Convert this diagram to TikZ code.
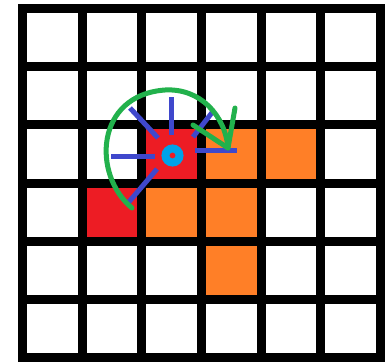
\documentclass[tikz,border=0pt]{standalone}
\usepackage{tikz}
\usetikzlibrary{calc}

\definecolor{paintred}{HTML}{ED1C24}
\definecolor{paintorange}{HTML}{FF7F27}
\definecolor{paintgreen}{HTML}{22B14C}
\definecolor{paintblue}{HTML}{3F48CC}
\definecolor{paintcyan}{HTML}{00A2E8}

\begin{document}
\begin{tikzpicture}[x=1pt, y=-1pt,
    spoke/.style={paintblue, line width=5pt},
    turn/.style={paintgreen, line width=5pt, line cap=round, line join=round}]
    \useasboundingbox (0,0) rectangle (390,362);

    %board and cells
        \fill[black] (18,4) rectangle (385,362);
        \foreach \i in {0,...,5}
            \foreach \j in {0,...,5}
                \fill[white] ({27+59.67*\i},{13+58.17*\j}) rectangle +(50.67,49.17);
        \foreach \i/\j in {2/2, 1/3}
            \fill[paintred] ({27+59.67*\i},{13+58.17*\j}) rectangle +(50.67,49.17);
        \foreach \i/\j in {3/2, 4/2, 2/3, 3/3, 3/4}
            \fill[paintorange] ({27+59.67*\i},{13+58.17*\j}) rectangle +(50.67,49.17);

    %mark centre and spoke ends
        \coordinate[] (C) at (172.5,155.5);
        \coordinate[] (N1) at (171,135);   \coordinate[] (N2) at (171,97);
        \coordinate[] (NW1) at (158,138);  \coordinate[] (NW2) at (130,108);
        \coordinate[] (W1) at (155,156);   \coordinate[] (W2) at (111,156);
        \coordinate[] (SW1) at (157,169);  \coordinate[] (SW2) at (128,203);
        \coordinate[] (E1) at (195,150);   \coordinate[] (E2) at (237,150);
        \coordinate[] (NE1) at (193,137);  \coordinate[] (NE2) at (214,110);

    %draw spokes and centre ring
        \foreach \d in {N, NW, W, SW, E, NE}
            \draw[spoke] (\d1) -- (\d2);
        \draw[paintcyan, line width=8pt] (C) circle (7);

    %turning arrow
        \coordinate[] (S) at (132,208);
        \coordinate[] (T) at (165,90);
        \coordinate[] (H) at (228,148);
        \coordinate[] (HL) at (193,125);
        \coordinate[] (HR) at (235,108);
        \draw[turn] (S) .. controls (92,175) and (95,95) .. (T)
            .. controls (200,88) and (225,115) .. (H);
        \draw[turn] (HL) -- (H) -- (HR);

\end{tikzpicture}
\end{document}
